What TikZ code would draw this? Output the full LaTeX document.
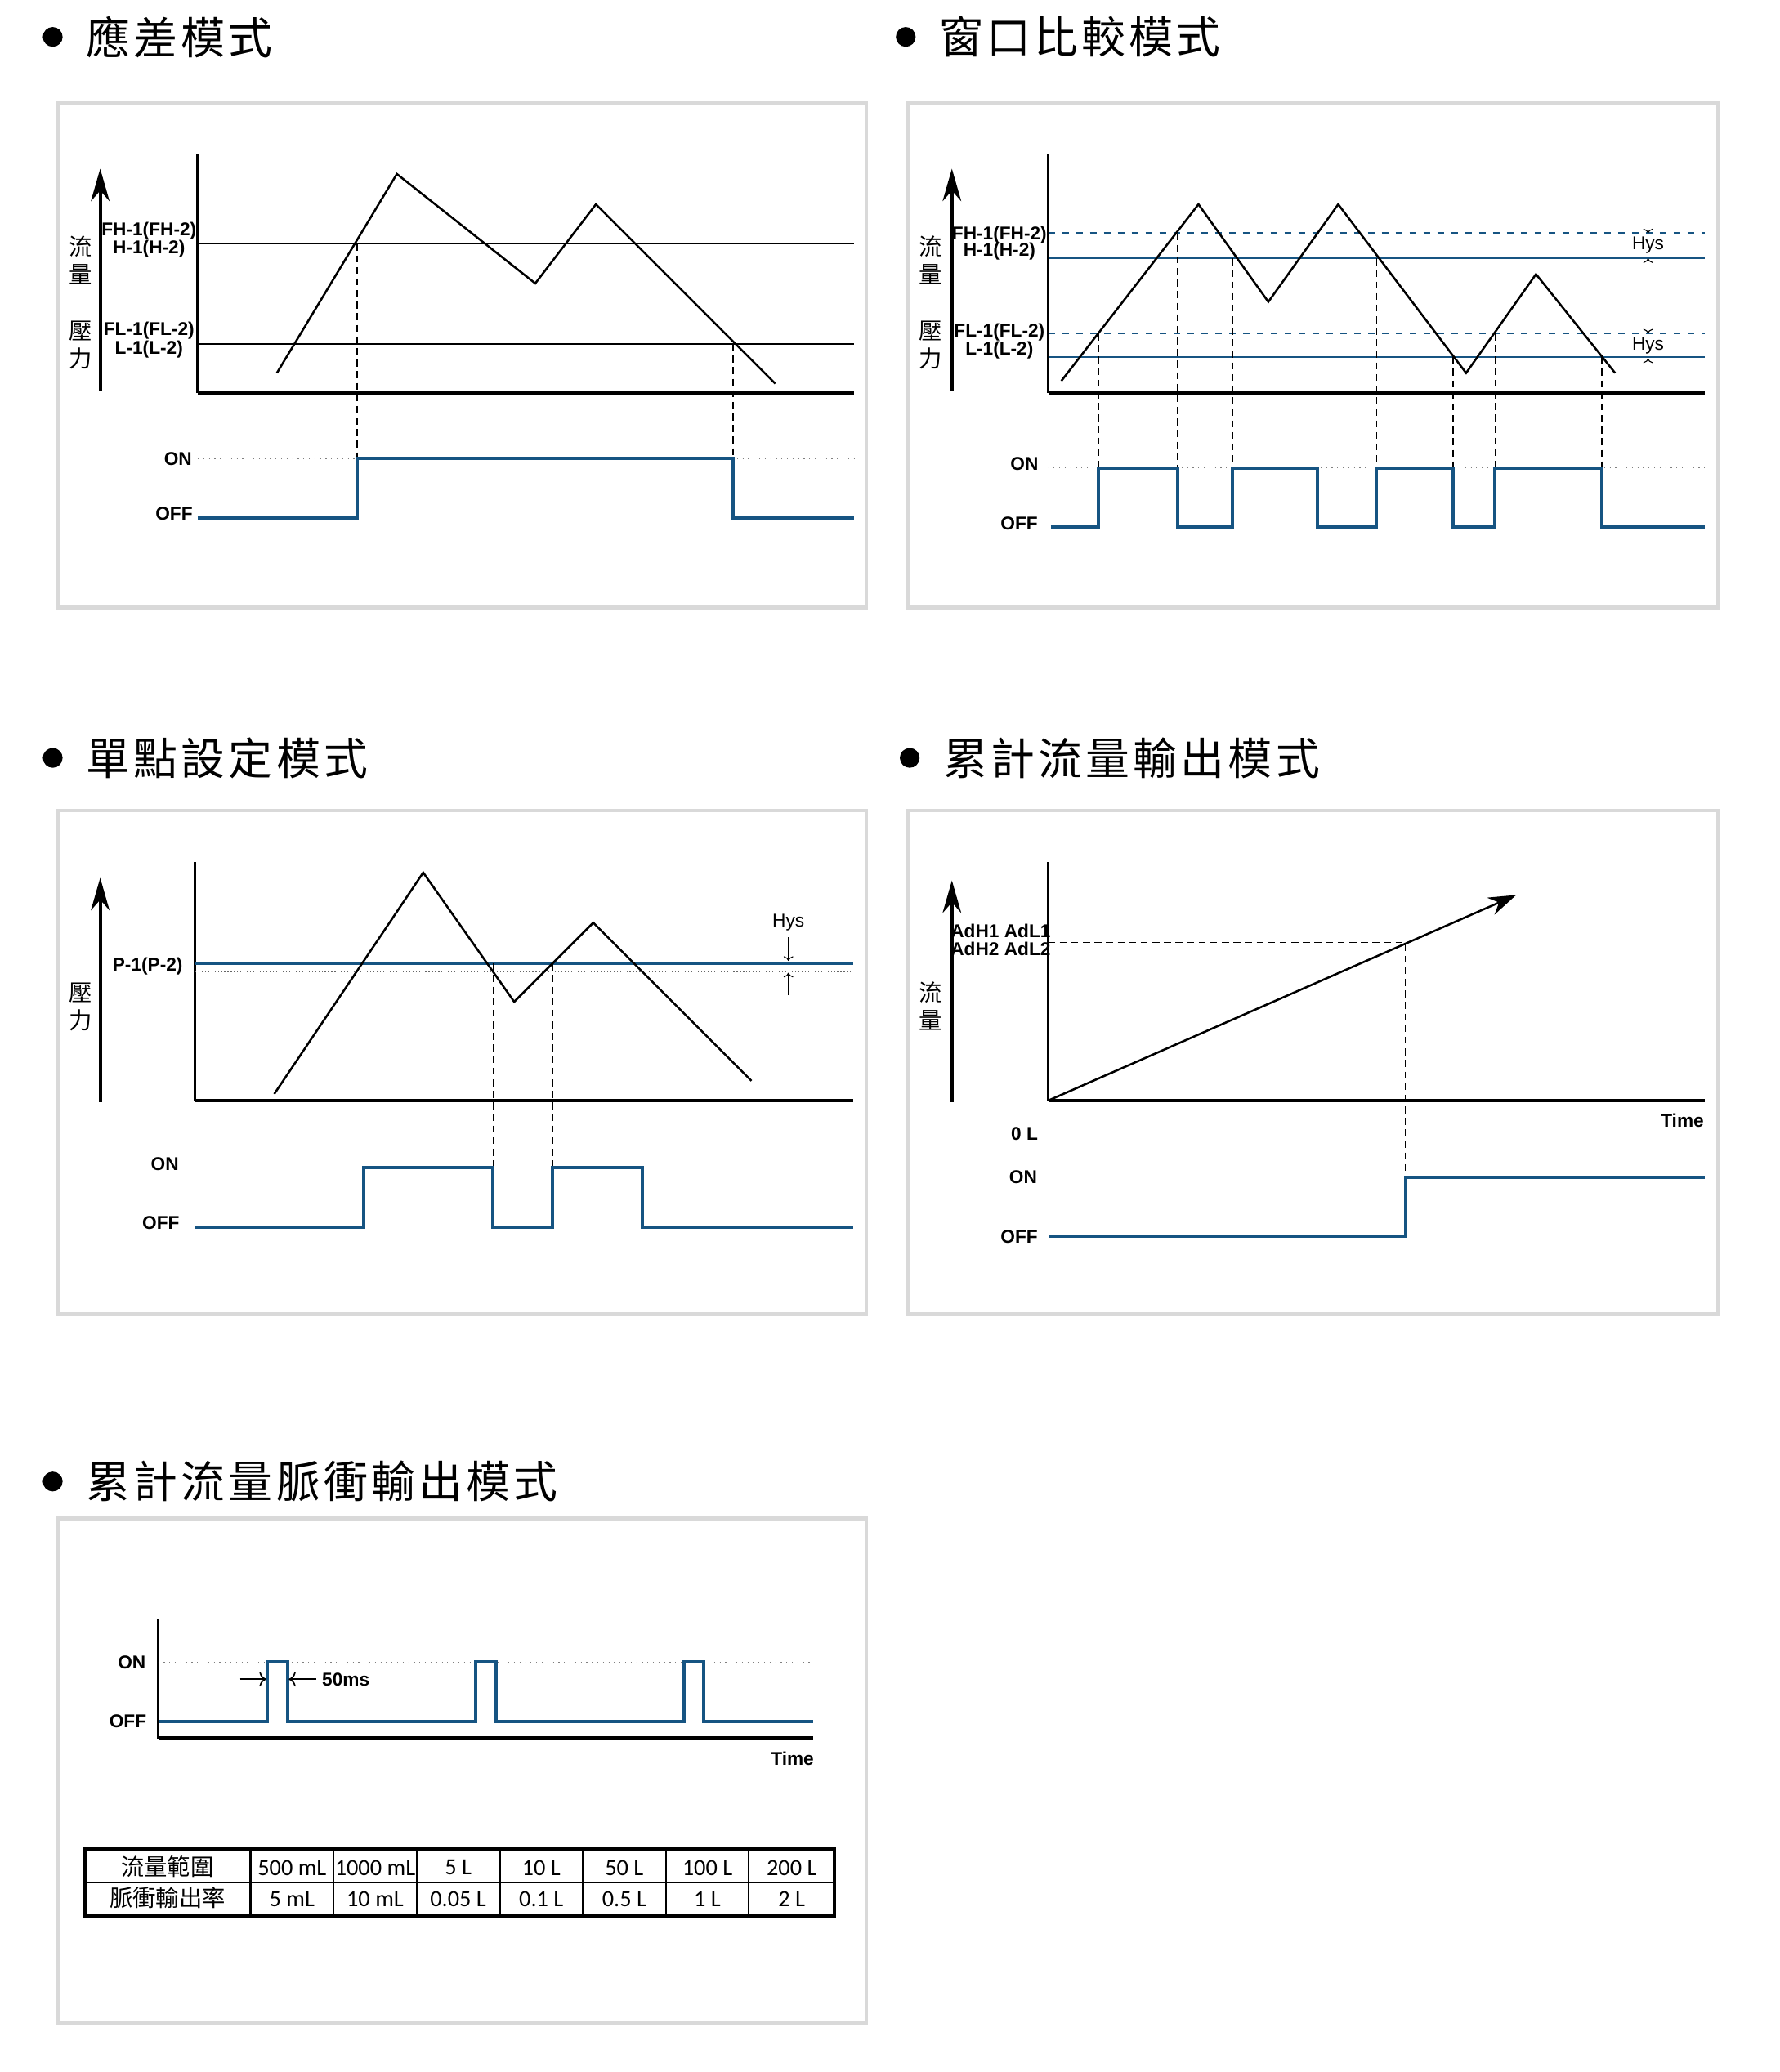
\documentclass[tikz,border=0pt]{standalone}
\usepackage{fontspec}
\setmainfont{Liberation Sans}
\newfontfamily\cjk{Noto Sans CJK TC}
\newfontfamily\cjktitle[LetterSpace=8]{Noto Sans CJK TC}
\newfontfamily\tabfont{Carlito}
\usetikzlibrary{arrows.meta}
\definecolor{sigblue}{RGB}{22,84,130}
\definecolor{panelgrey}{RGB}{217,217,217}
\tikzset{
  panel/.style={draw=panelgrey, line width=1.6pt},
  lbl/.style={font=\fontsize{8}{9}\selectfont\bfseries, inner sep=0pt},
  vlbl/.style={font=\cjk\fontsize{10}{10}\selectfont, inner sep=0pt},
  ttl/.style={font=\cjktitle\fontsize{19}{19}\selectfont, anchor=west, inner sep=0pt},
  sig/.style={draw=sigblue, line width=1.4pt},
  lvl/.style={draw=sigblue, line width=0.9pt},
  base/.style={line width=1.7pt},
  guide/.style={densely dashed, line width=0.5pt},
  dotline/.style={dotted, gray, line width=0.4pt},
  yarrow/.style={-{Stealth[length=14pt,width=8pt]}, line width=1.4pt},
  hysarrow/.style={-{To[length=2pt]}, line width=0.4pt},
  wave/.style={line width=0.9pt}
}
\begin{document}
\begin{tikzpicture}[x=0.02cm, y=-0.02cm]
  \useasboundingbox (0,0) rectangle (1350,1572);

  % Titles
  \foreach \bx/\by/\txt in {40/28/應差模式, 687/28/窗口比較模式, 40/575/單點設定模式,
                            690/575/累計流量輸出模式, 40/1124/累計流量脈衝輸出模式}{
    \fill (\bx,\by) circle[radius=0.15cm];
    \node[ttl] at (\bx+25,\by) {\txt};
  }

  % Panel frames
  \draw[panel] (44,78) rectangle (657,461);
  \draw[panel] (689,78) rectangle (1303,461);
  \draw[panel] (44,615) rectangle (657,997);
  \draw[panel] (689,615) rectangle (1303,997);
  \draw[panel] (44,1152) rectangle (657,1535);

  %%% Panel 1
  \draw[yarrow] (76,296) -- (76,128);
  \foreach \ch/\yy in {流/187, 量/208, //230, 壓/251, 力/272}
    \node[vlbl] at (61,\yy) {\ch};
  \draw[line width=1.2pt] (150,117) -- (150,298);
  \draw[base] (150,298) -- (648,298);
  \node[lbl] (fh1) at (113,175) {FH-1(FH-2)};
  \node[lbl] (h1) at (113,189) {H-1(H-2)};
  \node[lbl] (fl1) at (113,251) {FL-1(FL-2)};
  \node[lbl] (l1) at (113,265) {L-1(L-2)};
  \draw[line width=0.5pt] (150,185) -- (648,185);
  \draw[line width=0.5pt] (150,261) -- (648,261);
  \draw[wave] (210,283) -- (301,132) -- (406,215) -- (452,155) -- (588,291);
  \foreach \xx/\yy in {271/185, 556/261}
    \draw[guide] (\xx,\yy) -- (\xx,348);
  \node[lbl] (on1) at (135,348) {ON};
  \node[lbl] (off1) at (132,390) {OFF};
  \draw[dotline] (150,348) -- (648,348);
  \draw[sig] (150,393) -- (271,393) -- (271,348) -- (556,348) -- (556,393) -- (648,393);

  %%% Panel 2
  \draw[yarrow] (722,296) -- (722,128);
  \foreach \ch/\yy in {流/187, 量/208, //230, 壓/251, 力/272}
    \node[vlbl] at (706,\yy) {\ch};
  \draw[line width=1.2pt] (795,117) -- (795,298);
  \draw[base] (795,298) -- (1293,298);
  \node[lbl] (fh2) at (758,178) {FH-1(FH-2)};
  \node[lbl] (h2) at (758,191) {H-1(H-2)};
  \node[lbl] (fl2) at (758,252) {FL-1(FL-2)};
  \node[lbl] (l2) at (758,266) {L-1(L-2)};
  \draw[lvl, dashed] (795,177) -- (1293,177);
  \draw[lvl] (795,196) -- (1293,196);
  \draw[lvl, dashed] (795,253) -- (1293,253);
  \draw[lvl] (795,271) -- (1293,271);
  \foreach \yy in {186, 262}{
    \node[lbl, font=\fontsize{8}{9}\selectfont] at (1250,\yy) {Hys};
    \draw[hysarrow] (1250,\yy-27) -- (1250,\yy-9);
    \draw[hysarrow] (1250,\yy+27) -- (1250,\yy+10);
  }
  \draw[wave] (805,289) -- (909,155) -- (962,229) -- (1015,155) -- (1112,283) -- (1165,208) -- (1225,283);
  \foreach \xx/\yy in {833/253, 893/177, 935/196, 999/177, 1044/196, 1102/271, 1134/253, 1215/271}
    \draw[guide] (\xx,\yy) -- (\xx,355);
  \node[lbl] (on2) at (777,352) {ON};
  \node[lbl] (off2) at (773,397) {OFF};
  \draw[dotline] (795,355) -- (1293,355);
  \draw[sig] (797,400) -- (833,400) -- (833,355) -- (893,355) -- (893,400) -- (935,400)
    -- (935,355) -- (999,355) -- (999,400) -- (1044,400) -- (1044,355) -- (1102,355)
    -- (1102,400) -- (1134,400) -- (1134,355) -- (1215,355) -- (1215,400) -- (1293,400);

  %%% Panel 3
  \draw[yarrow] (76,836) -- (76,666);
  \node[vlbl] at (61,753) {壓};
  \node[vlbl] at (61,774) {力};
  \draw[line width=1.2pt] (148,654) -- (148,835);
  \draw[base] (148,835) -- (647,835);
  \node[lbl] (p1) at (112,733) {P-1(P-2)};
  \draw[lvl] (148,731) -- (647,731);
  \draw[dotline, densely dotted, gray!80!black] (148,737) -- (647,737);
  \node[lbl, font=\fontsize{8}{9}\selectfont] at (598,700) {Hys};
  \draw[hysarrow] (598,711) -- (598,729);
  \draw[hysarrow] (598,755) -- (598,738);
  \draw[wave] (208,830) -- (321,662) -- (390,760) -- (450,700) -- (570,820);
  \foreach \xx in {276, 374, 419, 487}
    \draw[guide] (\xx,731) -- (\xx,886);
  \node[lbl] (on3) at (125,883) {ON};
  \node[lbl] (off3) at (122,928) {OFF};
  \draw[dotline] (148,886) -- (647,886);
  \draw[sig] (148,931) -- (276,931) -- (276,886) -- (374,886) -- (374,931) -- (419,931)
    -- (419,886) -- (487,886) -- (487,931) -- (647,931);

  %%% Panel 4
  \draw[yarrow] (722,836) -- (722,668);
  \node[vlbl] at (706,753) {流};
  \node[vlbl] at (706,774) {量};
  \draw[line width=1.2pt] (795,654) -- (795,835);
  \draw[base] (795,835) -- (1293,835);
  \node[lbl] (ad1) at (759,706) {AdH1 AdL1};
  \node[lbl] (ad2) at (759,720) {AdH2 AdL2};
  \coordinate (origin4) at (795,835);
  \coordinate (tip4) at (1150,679);
  \draw[wave, -{Stealth[length=12pt,width=8pt]}] (origin4) -- (tip4);
  \draw[guide] (795,715) -- (1066,715) -- (1066,938);
  \node[lbl] (time4) at (1276,850) {Time};
  \node[lbl] (zero4) at (777,860) {0 L};
  \node[lbl] (on4) at (776,893) {ON};
  \node[lbl] (off4) at (773,938) {OFF};
  \draw[dotline] (795,893) -- (1293,893);
  \draw[sig] (795,938) -- (1066,938) -- (1066,893) -- (1293,893);

  %%% Panel 5
  \draw[line width=1.2pt] (120,1228) -- (120,1319);
  \draw[base] (120,1319) -- (617,1319);
  \node[lbl] (on5) at (100,1261) {ON};
  \node[lbl] (off5) at (97,1306) {OFF};
  \draw[dotline] (120,1261) -- (617,1261);
  \draw[sig] (120,1306) -- (203,1306) -- (203,1261) -- (218,1261) -- (218,1306)
    -- (361,1306) -- (361,1261) -- (376,1261) -- (376,1306)
    -- (519,1306) -- (519,1261) -- (534,1261) -- (534,1306) -- (617,1306);
  \draw[hysarrow, -{To[length=3pt]}, line width=0.6pt] (182,1274) -- (202,1274);
  \draw[hysarrow, -{To[length=3pt]}, line width=0.6pt] (240,1274) -- (219,1274);
  \node[lbl, anchor=west] (pulse) at (244,1274) {50ms};
  \node[lbl] (time5) at (601,1334) {Time};

  % Table
  \draw[line width=1.6pt] (64,1403) rectangle (633,1454);
  \draw[line width=0.8pt] (64,1428) -- (633,1428);
  \foreach \xx in {190,253,316,379,442,505,568}
    \draw[line width=0.8pt] (\xx,1403) -- (\xx,1454);
  \node[vlbl] at (127,1416) {流量範圍};
  \node[vlbl] at (127,1440) {脈衝輸出率};
  \foreach \xx/\ta/\tb in {221.5/500 mL/5 mL, 284.5/1000 mL/10 mL, 347.5/5 L/0.05 L,
      410.5/10 L/0.1 L, 473.5/50 L/0.5 L, 536.5/100 L/1 L, 600.5/200 L/2 L}{
    \node[font=\tabfont\fontsize{10}{10}\selectfont, inner sep=0pt] at (\xx,1417) {\ta};
    \node[font=\tabfont\fontsize{10}{10}\selectfont, inner sep=0pt] at (\xx,1441) {\tb};
  }
\end{tikzpicture}
\end{document}
